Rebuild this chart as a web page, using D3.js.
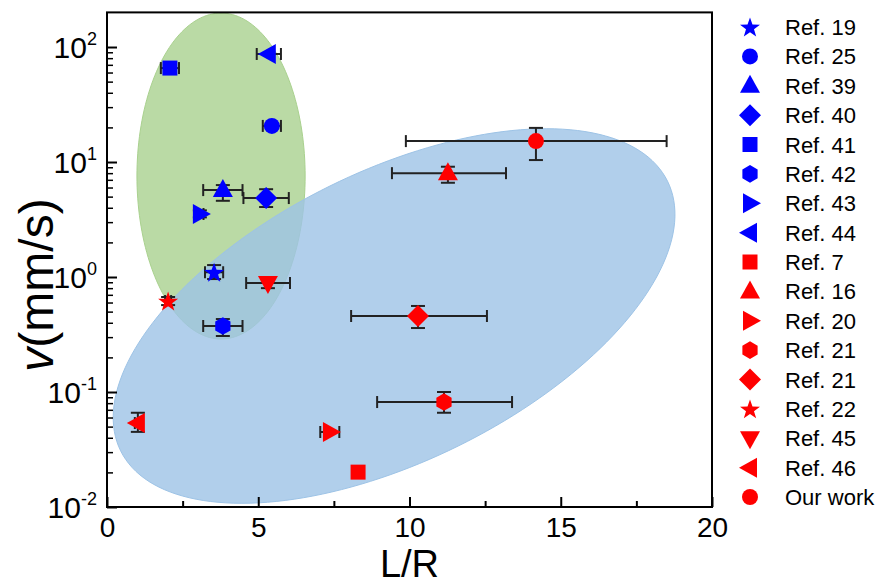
<!DOCTYPE html>
<html>
<head>
<meta charset="utf-8">
<script src="https://cdn.jsdelivr.net/npm/d3@7"></script>
<style>
  html, body { margin: 0; padding: 0; background: #fff; }
  svg { display: block; font-family: Arial, "Liberation Sans", sans-serif; }
</style>
</head>
<body>
<svg id="chart" width="884" height="585"></svg>
<script>
// ---------------- data ----------------
const legendNames = ["Ref. 19","Ref. 25","Ref. 39","Ref. 40","Ref. 41","Ref. 42","Ref. 43","Ref. 44",
                     "Ref. 7","Ref. 16","Ref. 20","Ref. 21","Ref. 21","Ref. 22","Ref. 45","Ref. 46","Our work"];
const legendShapes = ["star","circle","triUp","diamond","square","hexagon","triRight","triLeft",
                      "square","triUp","triRight","hexagon","diamond","star","triDown","triLeft","circle"];
const legendColors = ["blue","blue","blue","blue","blue","blue","blue","blue",
                      "red","red","red","red","red","red","red","red","red"];

// point values: L/R, v (mm/s), and error ranges [low, high] (null = no bar)
const ptX    = [3.54, 5.45, 3.83, 5.26, 2.08, 3.83, 3.07, 5.35,
                8.30, 11.27, 7.37, 11.14, 10.28, 2.02, 5.32, 1.02, 14.18];
const ptV    = [1.10, 20.6, 5.7, 4.86, 65.6, 0.375, 3.53, 87,
                0.0201, 8.0, 0.0449, 0.0818, 0.458, 0.618, 0.887, 0.0537, 15.2];
const ptXLo  = [3.24, 5.15, 3.18, 4.51, 1.78, 3.18, 2.95, 4.95,
                null, 9.42, 7.05, 8.93, 8.07, 1.92, 4.60, 0.92, 9.88];
const ptXHi  = [3.84, 5.75, 4.48, 6.01, 2.38, 4.48, 3.19, 5.75,
                null, 13.19, 7.68, 13.39, 12.56, 2.12, 6.05, 1.12, 18.50];
const ptVLo  = [0.96, null, 4.6, 4.06, null, 0.307, 3.3, null,
                null, 6.6, null, 0.066, 0.36, 0.57, 0.80, 0.045, 10.4];
const ptVHi  = [1.27, null, 6.3, 5.8, null, 0.431, 3.8, null,
                null, 9.1, null, 0.100, 0.56, 0.67, 1.00, 0.066, 19.8];

// shaded zones: centre, end of first semi-axis, end of second semi-axis (data coords)
const greenZone = [[3.77, 7.55], [6.55, 7.55], [3.77, 0.289]];
const blueZone  = [[9.49, 0.458], [18.53, 6.81], [11.61, 0.0339]];

const xTicks = [0, 5, 10, 15, 20];
const xMinor = [2.5, 7.5, 12.5, 17.5];
const yTickExp = [-2, -1, 0, 1, 2];

// ---------------- drawing ----------------
const svg = d3.select("#chart");
const x = d3.scaleLinear().domain([0, 20]).range([107, 712]);
const y = d3.scaleLog().domain([0.01, 200]).range([507, 12.4]);
const [X0, X1] = x.range();
const [Y0, Y1] = y.range();

function zonePath(z) {
  const c = [x(z[0][0]), y(z[0][1])];
  const a = [x(z[1][0]) - c[0], y(z[1][1]) - c[1]];
  const b = [x(z[2][0]) - c[0], y(z[2][1]) - c[1]];
  const pts = d3.range(0, 361, 2).map(d => {
    const t = d * Math.PI / 180;
    return [c[0] + a[0]*Math.cos(t) + b[0]*Math.sin(t), c[1] + a[1]*Math.cos(t) + b[1]*Math.sin(t)];
  });
  return d3.line()(pts) + "Z";
}
svg.append("path").attr("d", zonePath(greenZone))
  .attr("fill", "#a9d18e").attr("fill-opacity", 0.8)
  .attr("stroke", "#a9d18e").attr("stroke-width", 1);
svg.append("path").attr("d", zonePath(blueZone))
  .attr("fill", "#9dc3e6").attr("fill-opacity", 0.8)
  .attr("stroke", "#9dc3e6").attr("stroke-width", 1);

// frame
svg.append("rect").attr("x", X0).attr("y", Y1).attr("width", X1 - X0).attr("height", Y0 - Y1)
  .attr("fill", "none").attr("stroke", "#000").attr("stroke-width", 2);

// x ticks (inward)
const xAxis = svg.append("g").attr("transform", `translate(0,${Y0})`)
  .call(d3.axisBottom(x).tickValues(xTicks).tickSizeInner(-10).tickSizeOuter(0).tickPadding(10)
  .tickFormat(d3.format("d")));
xAxis.select(".domain").remove();
xAxis.selectAll("line").attr("stroke", "#000").attr("stroke-width", 2);
xAxis.selectAll("text").attr("font-size", 28).attr("font-family", "Arial, 'Liberation Sans', sans-serif").attr("fill", "#000");
const xAxisMinor = svg.append("g").attr("transform", `translate(0,${Y0})`)
  .call(d3.axisBottom(x).tickValues(xMinor).tickSizeInner(-6).tickSizeOuter(0).tickFormat(""));
xAxisMinor.select(".domain").remove();
xAxisMinor.selectAll("line").attr("stroke", "#000").attr("stroke-width", 2);

// y ticks (inward)
const yMajor = yTickExp.map(e => Math.pow(10, e));
const yMinorVals = [];
yTickExp.forEach(e => { for (let k = 2; k <= 9; k++) { const v = k * Math.pow(10, e); if (v < 200) yMinorVals.push(v); } });
const yAxis = svg.append("g").attr("transform", `translate(${X0},0)`)
  .call(d3.axisLeft(y).tickValues(yMajor).tickSizeInner(-10).tickSizeOuter(0).tickFormat(""));
yAxis.select(".domain").remove();
yAxis.selectAll("line").attr("stroke", "#000").attr("stroke-width", 2);
const yAxisMinor = svg.append("g").attr("transform", `translate(${X0},0)`)
  .call(d3.axisLeft(y).tickValues(yMinorVals).tickSizeInner(-6).tickSizeOuter(0).tickFormat(""));
yAxisMinor.select(".domain").remove();
yAxisMinor.selectAll("line").attr("stroke", "#000").attr("stroke-width", 1.5);

// y tick labels 10^n
yTickExp.forEach(e => {
  const t = svg.append("text").attr("x", X0 - 10).attr("y", y(Math.pow(10, e)) + 11)
    .attr("text-anchor", "end").attr("font-size", 30).attr("fill", "#000");
  t.append("tspan").text("10");
  t.append("tspan").attr("font-size", 18).attr("dy", -13).text(String(e));
});

// axis titles
svg.append("text").attr("x", (X0 + X1) / 2).attr("y", 576.8).attr("text-anchor", "middle")
  .attr("font-size", 38).attr("fill", "#000").text("L/R");
const yt = svg.append("text").attr("transform", `translate(53,${285}) rotate(-90)`)
  .attr("text-anchor", "middle").attr("font-size", 48).attr("fill", "#000");
yt.append("tspan").attr("font-style", "italic").text("v");
yt.append("tspan").text("(mm/s)");

// marker shapes
function shapePath(s) {
  const r = 8;
  switch (s) {
    case "circle": { const p = d3.path(); p.arc(0, 0, r, 0, 2*Math.PI); p.closePath(); return p.toString(); }
    case "square": return "M-7.5,-7.5H7.5V7.5H-7.5Z";
    case "triUp": return "M0,-11L10,7L-10,7Z";
    case "triDown": return "M0,11L10,-7L-10,-7Z";
    case "triRight": return "M11,0L-7,10L-7,-10Z";
    case "triLeft": return "M-11,0L7,10L7,-10Z";
    case "diamond": return "M0,-11L11,0L0,11L-11,0Z";
    case "hexagon": {
      const pts = d3.range(6).map(i => { const a = Math.PI/6 + i*Math.PI/3; return [8.8*Math.cos(a), 8.8*Math.sin(a)]; });
      return d3.line()(pts) + "Z";
    }
    case "star": {
      const pts = d3.range(10).map(i => { const a = -Math.PI/2 + i*Math.PI/5; const rr = i % 2 ? 4.2 : 10.5; return [rr*Math.cos(a), rr*Math.sin(a) + 1]; });
      return d3.line()(pts) + "Z";
    }
  }
}

// error bars
const idx = d3.range(ptX.length);
const eb = svg.append("g").attr("stroke", "#222").attr("stroke-width", 2).attr("fill", "none");
idx.forEach(i => {
  const cx = x(ptX[i]), cy = y(ptV[i]);
  if (ptXLo[i] !== null) {
    eb.append("line").attr("x1", x(ptXLo[i])).attr("x2", x(ptXHi[i])).attr("y1", cy).attr("y2", cy);
    [ptXLo[i], ptXHi[i]].forEach(v => eb.append("line").attr("x1", x(v)).attr("x2", x(v)).attr("y1", cy - 6).attr("y2", cy + 6));
  }
  if (ptVLo[i] !== null) {
    eb.append("line").attr("x1", cx).attr("x2", cx).attr("y1", y(ptVLo[i])).attr("y2", y(ptVHi[i]));
    [ptVLo[i], ptVHi[i]].forEach(v => eb.append("line").attr("x1", cx - 7).attr("x2", cx + 7).attr("y1", y(v)).attr("y2", y(v)));
  }
});

// markers
svg.append("g").selectAll("path").data(idx).join("path")
  .attr("d", i => shapePath(legendShapes[i]))
  .attr("transform", i => `translate(${x(ptX[i])},${y(ptV[i])})`)
  .attr("fill", i => legendColors[i] === "blue" ? "#0000ff" : "#ff0000");

// legend
const lg = svg.append("g");
const rowY = d3.scaleLinear().domain([0, legendNames.length - 1]).range([27, 497]);
legendNames.forEach((n, i) => {
  lg.append("path").attr("d", shapePath(legendShapes[i]))
    .attr("transform", `translate(750,${rowY(i)})`)
    .attr("fill", legendColors[i] === "blue" ? "#0000ff" : "#ff0000");
  lg.append("text").attr("x", 785).attr("y", rowY(i) + 8).attr("font-size", 22).attr("fill", "#000").text(n);
});
</script>
</body>
</html>
